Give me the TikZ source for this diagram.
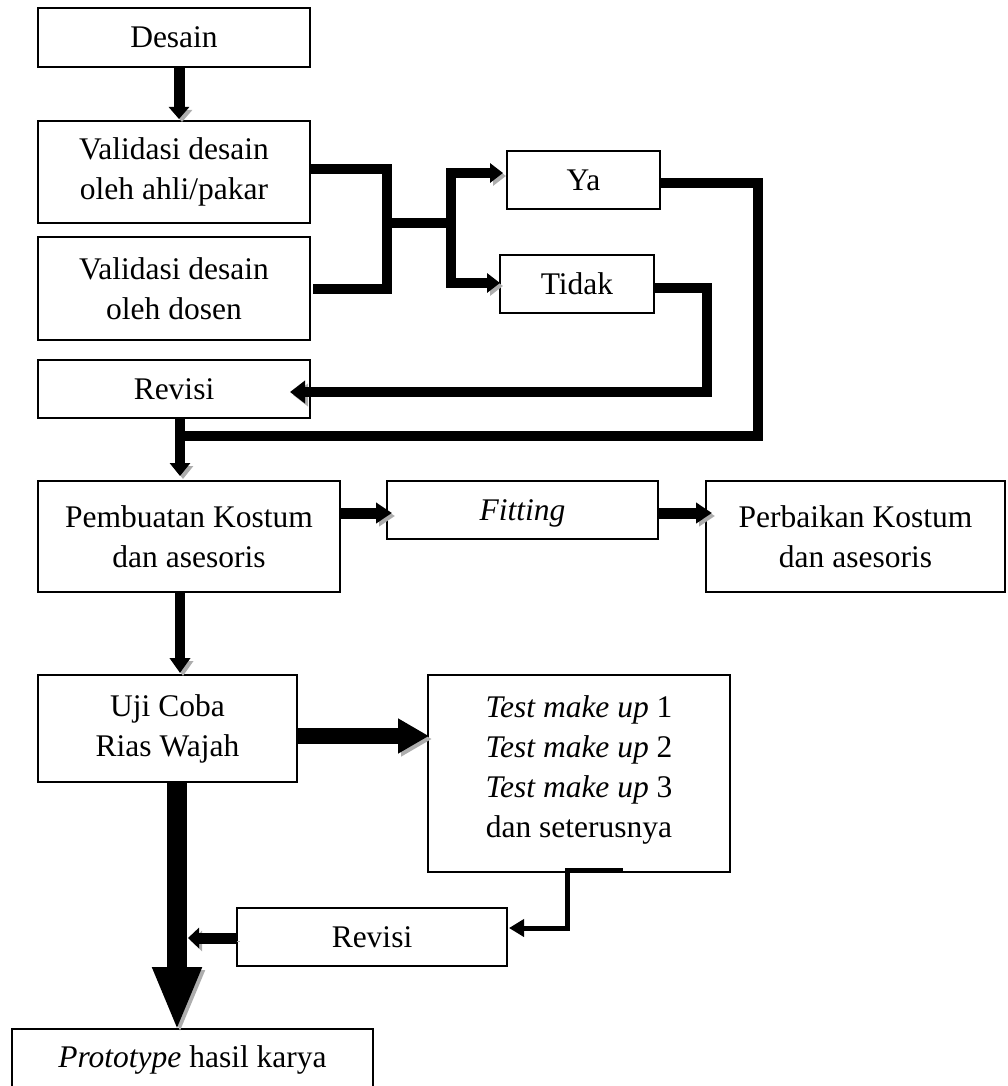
\documentclass[tikz,border=0pt]{standalone}
\usepackage{fontspec}
\setmainfont{Liberation Serif}
\usetikzlibrary{arrows.meta}
\definecolor{shad}{gray}{0.68}
\tikzset{
  box/.style={draw, line width=2pt, inner sep=0pt, outer sep=0pt, align=center,
    font=\fontsize{31.5}{40}\selectfont},
  txt/.style={inner sep=0pt, outer sep=0pt, align=center, font=\fontsize{31.5}{40}\selectfont},
  link/.style={line width=#1, line join=miter, line cap=butt},
  shadowed/.style={preaction={draw=shad, transform canvas={xshift=3pt,yshift=-3pt}}},
}
\begin{document}
\begin{tikzpicture}[x=1pt,y=-1pt]
\useasboundingbox (0,0) rectangle (1007,1086);
\clip (0,0) rectangle (1007,1086);
% boxes
\node[box, minimum width=272pt, minimum height=59pt] (desain) at (174,37.5) {Desain};
\node[box, minimum width=272pt, minimum height=102pt] (val1) at (174,172) {Validasi desain\\oleh ahli/pakar};
\node[box, minimum width=272pt, minimum height=103pt] (val2) at (174,288.5) {Validasi desain\\oleh dosen};
\node[box, minimum width=272pt, minimum height=58pt] (rev1) at (174,389) {Revisi};
\node[box, minimum width=153pt, minimum height=58pt] (ya) at (583.5,180) {Ya};
\node[box, minimum width=154pt, minimum height=58pt] (tidak) at (577,284) {Tidak};
\node[box, minimum width=302pt, minimum height=111pt] (pemb) at (189,536.5) {Pembuatan Kostum\\dan asesoris};
\node[box, minimum width=271pt, minimum height=58pt, text height=22pt, text depth=2pt] (fit) at (522.5,510) {\textit{Fitting}};
\node[box, minimum width=299pt, minimum height=111pt] (perb) at (855.5,536.5) {Perbaikan Kostum\\dan asesoris};
\node[box, minimum width=259pt, minimum height=107pt] (uji) at (167.5,728.5) {Uji Coba\\Rias Wajah};
\node[box, minimum width=302pt, minimum height=197pt] (test) at (579,773.5) {};
\node[txt] (testtxt) at (579,770) {\textit{Test make up} 1\\\textit{Test make up} 2\\\textit{Test make up} 3\\dan seterusnya};
\node[box, minimum width=270pt, minimum height=58pt] (rev2) at (372,937) {Revisi};
\node[box, minimum width=361pt, minimum height=61pt] (proto) at (192.5,1059.5) {\textit{Prototype} hasil karya};
% named bend points
\coordinate (jl) at (387,223);
\coordinate (jr) at (451,223);
\coordinate (yaend) at (180,436);
\coordinate (shaftR) at (188,938);
% connectors
\draw[link=11pt, shadowed, -{Triangle[length=12pt,width=20pt]}] ([xshift=5pt]desain.south) -- ([xshift=5pt,yshift=2pt]val1.north);
\draw[link=10pt] ([yshift=3pt]val1.east) -- (387,169) -- (387,288.5) -- ([xshift=3pt]val2.east);
\draw[link=10pt] (jl) -- (jr);
\draw[link=10pt, shadowed, {Triangle[length=13pt,width=19pt]}-{Triangle[length=13pt,width=19pt]}]
  ([xshift=-4pt,yshift=7pt]ya.west) -- (451,173) -- (451,283) -- ([yshift=1pt]tidak.west);
\draw[link=10pt, shadowed] ([yshift=-3pt]ya.east) -- (758,183) -- (758,436) -- (yaend);
\draw[link=10pt, shadowed, -{Triangle[length=15pt,width=22pt]}] ([yshift=-4pt]tidak.east) -- (707,288) -- (707,392) -- ([xshift=-20pt,yshift=-3pt]rev1.east);
\draw[link=10pt, shadowed, -{Triangle[length=13pt,width=20pt]}] ([xshift=6pt]rev1.south) -- ([xshift=-9pt,yshift=5pt]pemb.north);
\draw[link=11pt, shadowed, -{Triangle[length=16pt,width=20pt]}] ([yshift=23.5pt]pemb.east) -- ([xshift=5pt,yshift=-3pt]fit.west);
\draw[link=11pt, shadowed, -{Triangle[length=16pt,width=20pt]}] ([yshift=-3pt]fit.east) -- ([xshift=6pt,yshift=23.5pt]perb.west);
\draw[link=10pt, shadowed, -{Triangle[length=15pt,width=20pt]}] ([xshift=-9pt]pemb.south) -- ([xshift=12.5pt,yshift=2pt]uji.north);
\draw[link=16pt, shadowed, -{Triangle[length=31pt,width=33pt]}] ([yshift=-7.5pt]uji.east) -- ([xshift=1pt,yshift=37.5pt]test.west);
\draw[link=20pt, shadowed, -{Triangle[length=64pt,width=45pt]}] ([xshift=9.5pt]uji.south) -- ([xshift=-15.5pt,yshift=-2pt]proto.north);
\draw[link=5pt, -{Triangle[length=15pt,width=17pt]}] ([xshift=44pt,yshift=2pt]test.south) -- (567,870) -- (567,928) -- ([xshift=2pt,yshift=9pt]rev2.east);
\draw[link=11pt, shadowed, -{Triangle[length=11pt,width=20pt]}] ([yshift=-1pt]rev2.west) -- (shaftR);
\end{tikzpicture}
\end{document}
